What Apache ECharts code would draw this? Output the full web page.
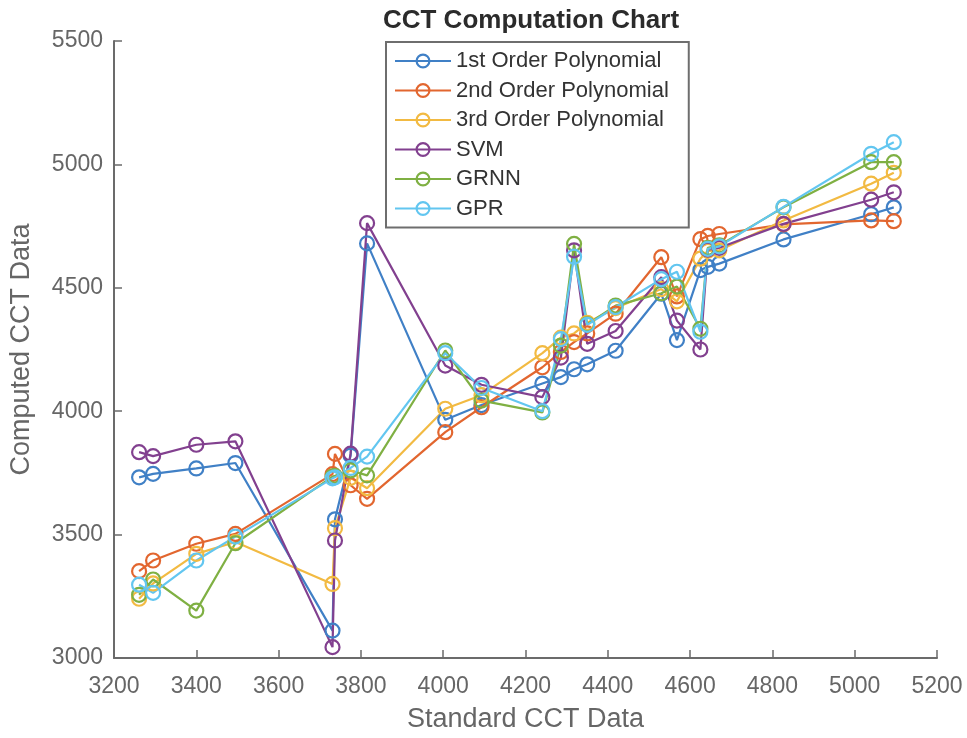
<!DOCTYPE html>
<html>
<head>
<meta charset="utf-8">
<script src="https://cdn.jsdelivr.net/npm/echarts@6/dist/echarts.min.js"></script>
<style>
html,body{margin:0;padding:0;background:#fff;}
#chart{width:967px;height:738px;}
</style>
</head>
<body>
<div id="chart"></div>
<script>
// Standard CCT data (x values), shared by all series, in plotting order
var standardCCT = [3261, 3295, 3400, 3495, 3731, 3737, 3775, 3815, 4005, 4093, 4241, 4286, 4318, 4350, 4419, 4530, 4568, 4625, 4643, 4671, 4827, 5040, 5095];

var poly1 = [3732, 3746, 3768, 3790, 3111, 3562, 3820, 4680, 3965, 4025, 4112, 4138, 4170, 4190, 4245, 4476, 4288, 4572, 4585, 4598, 4696, 4798, 4826];
var poly2 = [3352, 3395, 3463, 3503, 3745, 3827, 3700, 3645, 3915, 4016, 4178, 4240, 4280, 4315, 4395, 4624, 4465, 4697, 4710, 4718, 4757, 4773, 4770];
var poly3 = [3240, 3302, 3422, 3470, 3300, 3526, 3730, 3688, 4010, 4065, 4235, 4298, 4315, 4358, 4418, 4495, 4445, 4618, 4650, 4652, 4773, 4922, 4966];
var svm   = [3834, 3818, 3864, 3878, 3044, 3476, 3828, 4762, 4185, 4107, 4057, 4217, 4652, 4273, 4325, 4543, 4367, 4250, 4655, 4662, 4759, 4857, 4887];
var grnn  = [3256, 3318, 3192, 3465, 3735, 3738, 3760, 3740, 4246, 4043, 3995, 4266, 4678, 4352, 4428, 4478, 4505, 4334, 4662, 4672, 4826, 5009, 5009];
var gpr   = [3297, 3264, 3395, 3492, 3728, 3732, 3770, 3816, 4235, 4094, 4000, 4292, 4626, 4350, 4422, 4535, 4565, 4322, 4658, 4668, 4828, 5043, 5090];

var seriesNames = ['1st Order Polynomial', '2nd Order Polynomial', '3rd Order Polynomial', 'SVM', 'GRNN', 'GPR'];
var seriesValues = [poly1, poly2, poly3, svm, grnn, gpr];
var seriesColors = ['#4080C6', '#E2662F', '#F2BA42', '#82408F', '#7FB043', '#62C6F0'];

var xTicks = {min: 3200, max: 5200, interval: 200};
var yTicks = {min: 3000, max: 5500, interval: 500};

var FONT = '"Liberation Sans", Arial, Helvetica, sans-serif';

var series = seriesNames.map(function (name, i) {
  var data = standardCCT.map(function (x, j) { return [x, seriesValues[i][j]]; });
  return {
    name: name,
    type: 'line',
    data: data,
    symbol: 'circle',
    symbolSize: 14,
    showAllSymbol: true,
    animation: false,
    lineStyle: {color: seriesColors[i], width: 2.2},
    itemStyle: {color: 'rgba(255,255,255,0)', borderColor: seriesColors[i], borderWidth: 2.2},
    emphasis: {disabled: true}
  };
});

function plain(v) { return String(v); }

var chart = echarts.init(document.getElementById('chart'), null, {renderer: 'canvas'});
chart.setOption({
  animation: false,
  backgroundColor: '#ffffff',
  title: {
    text: 'CCT Computation Chart',
    left: 526, top: 3, textAlign: 'center',
    textStyle: {fontFamily: FONT, fontSize: 26, fontWeight: 'bold', color: '#2b2b2b'}
  },
  grid: {left: 114, right: 30, top: 41, bottom: 80, containLabel: false},
  legend: {
    orient: 'vertical',
    left: 386, top: 42,
    padding: [8, 20, 8, 8],
    itemGap: 7.5,
    itemWidth: 56, itemHeight: 16,
    borderColor: '#6e6e6e', borderWidth: 2,
    backgroundColor: '#ffffff',
    textStyle: {fontFamily: FONT, fontSize: 22, color: '#333333'},
    data: seriesNames.map(function (n, i) {
      return {name: n, itemStyle: {color: 'rgba(255,255,255,0)', borderColor: seriesColors[i], borderWidth: 2.2}};
    })
  },
  xAxis: {
    type: 'value',
    min: xTicks.min, max: xTicks.max, interval: xTicks.interval,
    name: 'Standard CCT Data', nameLocation: 'middle', nameGap: 48,
    nameTextStyle: {fontFamily: FONT, fontSize: 27, color: '#666666'},
    axisLine: {show: true, lineStyle: {color: '#6b6b6b', width: 2}},
    axisTick: {show: true, inside: true, length: 8, lineStyle: {color: '#6b6b6b', width: 1.5}},
    axisLabel: {fontFamily: FONT, fontSize: 23, color: '#666666', margin: 17, formatter: plain},
    splitLine: {show: false}
  },
  yAxis: {
    type: 'value',
    min: yTicks.min, max: yTicks.max, interval: yTicks.interval,
    name: 'Computed CCT Data', nameLocation: 'middle', nameGap: 79,
    nameTextStyle: {fontFamily: FONT, fontSize: 27, color: '#666666'},
    axisLine: {show: true, lineStyle: {color: '#6b6b6b', width: 2}},
    axisTick: {show: true, inside: true, length: 8, lineStyle: {color: '#6b6b6b', width: 1.5}},
    axisLabel: {fontFamily: FONT, fontSize: 23, color: '#666666', margin: 11, formatter: plain},
    splitLine: {show: false}
  },
  series: series
});
</script>
</body>
</html>
